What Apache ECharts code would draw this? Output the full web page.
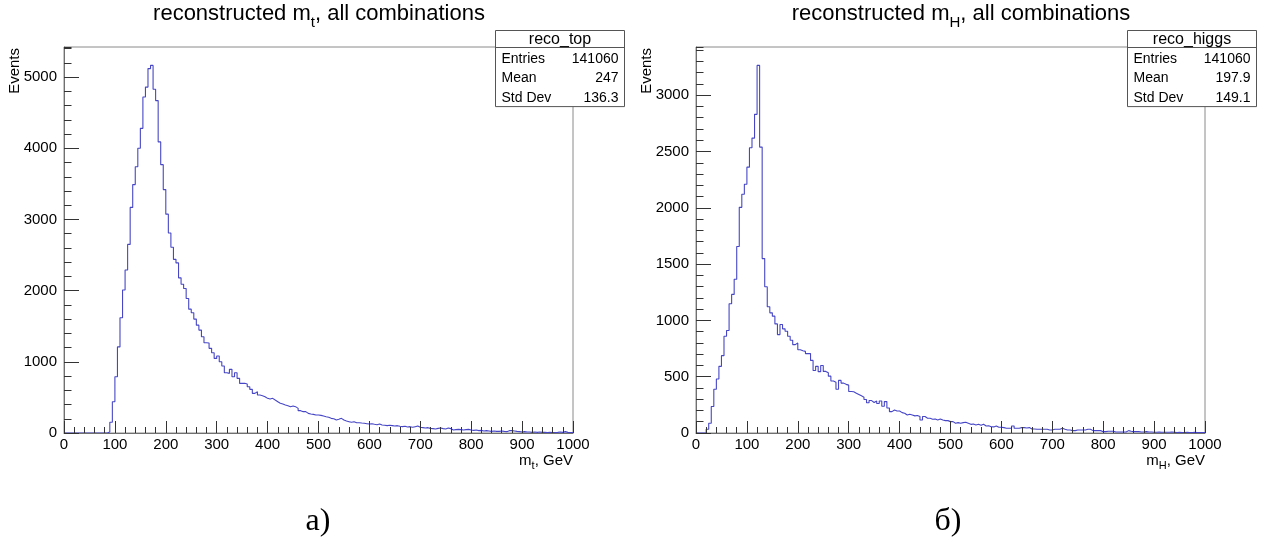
<!DOCTYPE html>
<html>
<head>
<meta charset="utf-8">
<script src="https://cdn.jsdelivr.net/npm/echarts@6/dist/echarts.min.js"></script>
<style>
  html, body { margin: 0; padding: 0; background: #fff; }
  #chart { width: 1279px; height: 548px; }
</style>
</head>
<body>
<div id="chart"></div>
<script>
// Histogram binning: 200 bins of 5 GeV from 0 to 1000 GeV
const BIN_WIDTH = 5;
const X_MIN = 0;
const X_MAX = 1000;

// reco_top: reconstructed top mass, counts per bin
const topCounts = [
  0, 0, 0, 0, 0, 0, 0, 0, 0, 0,
  0, 0, 0, 0, 0, 0, 0, 15, 150, 440,
  790, 1210, 1620, 2010, 2290, 2650, 3170, 3490, 3740, 4000,
  4280, 4720, 4860, 5120, 5165, 4830, 4670, 4090, 3770, 3420,
  3075, 2810, 2610, 2440, 2390, 2180, 2090, 2030, 1890, 1740,
  1690, 1600, 1515, 1446, 1353, 1268, 1265, 1189, 1128, 1048,
  1081, 1002, 941, 847, 838, 894, 791, 847, 768, 697,
  700, 688, 650, 613, 557, 580, 534, 524, 510, 487,
  477, 487, 463, 440, 417, 407, 393, 384, 370, 379,
  370, 346, 314, 300, 300, 276, 267, 262, 253, 253,
  248, 239, 229, 220, 206, 201, 183, 192, 206, 183,
  168, 159, 150, 159, 145, 145, 140, 136, 131, 126,
  130, 122, 117, 126, 112, 108, 103, 108, 103, 98,
  103, 94, 89, 94, 84, 89, 80, 89, 98, 80,
  75, 70, 75, 65, 61, 56, 65, 70, 61, 56,
  70, 61, 42, 47, 51, 47, 42, 47, 51, 42,
  37, 42, 33, 37, 28, 33, 28, 23, 28, 23,
  23, 28, 23, 19, 33, 33, 28, 23, 19, 14,
  19, 14, 14, 9, 14, 9, 14, 9, 9, 5,
  9, 5, 5, 9, 14, 9, 19, 9, 5, 5
];

// reco_higgs: reconstructed Higgs mass, counts per bin
const higgsCounts = [
  0, 0, 0, 0, 33, 86, 235, 389, 479, 592,
  687, 859, 910, 1148, 1231, 1365, 1656, 2004, 2120, 2209,
  2361, 2533, 2619, 2830, 3265, 2539, 1549, 1299, 1121, 1067,
  1038, 969, 874, 963, 925, 904, 859, 824, 785, 800,
  740, 730, 725, 705, 705, 645, 555, 592, 545, 600,
  547, 535, 505, 462, 450, 389, 467, 443, 432, 425,
  369, 366, 354, 342, 330, 318, 297, 268, 288, 271,
  285, 262, 284, 238, 279, 222, 190, 205, 196, 196,
  181, 175, 160, 166, 160, 152, 155, 146, 116, 146,
  131, 131, 122, 125, 116, 125, 116, 110, 110, 101,
  101, 86, 92, 86, 92, 95, 86, 77, 80, 71,
  77, 68, 77, 62, 65, 56, 54, 62, 51, 51,
  48, 42, 42, 42, 62, 42, 42, 48, 48, 45,
  48, 36, 36, 33, 33, 33, 33, 33, 27, 27,
  33, 33, 33, 42, 33, 27, 27, 21, 21, 27,
  27, 27, 27, 33, 33, 21, 21, 21, 21, 12,
  12, 15, 15, 15, 9, 9, 9, 9, 9, 21,
  15, 12, 12, 12, 9, 9, 12, 9, 9, 6,
  6, 9, 6, 6, 6, 6, 9, 6, 3, 6,
  3, 3, 6, 3, 3, 6, 3, 3, 3, 3
];

// Statistics boxes
const statLabels = ['Entries', 'Mean', 'Std Dev'];
const topStatValues = ['141060', '247', '136.3'];
const higgsStatValues = ['141060', '197.9', '149.1'];

// Axis divisions (major / minor)
const xMajor = 100, xMinor = 20;
const topYMajor = 1000, topYMinor = 200;
const higgsYMajor = 500, higgsYMinor = 100;

const SANS = 'Liberation Sans, Arial, Helvetica, sans-serif';
const SERIF = 'Liberation Serif, DejaVu Serif, serif';
const LINE_COLOR = '#4646c6';

// step outline: each point is a bin's lower edge; the last point closes the final bin
function toSteps(counts) {
  const pts = counts.map((v, i) => [X_MIN + i * BIN_WIDTH, v]);
  pts.push([X_MAX, counts[counts.length - 1]]);
  return pts;
}

// ROOT-like frame maximum: 5% headroom over the tallest bin
function frameMax(counts) {
  return Math.max.apply(null, counts) * 1.05;
}

const plainNumber = v => String(Math.round(v));

const pads = [
  { left: 64, counts: topCounts, yMajor: topYMajor, yMinor: topYMinor },
  { left: 696, counts: higgsCounts, yMajor: higgsYMajor, yMinor: higgsYMinor }
];
const GRID_TOP = 47, GRID_W = 509, GRID_H = 386;

const grids = [], xAxes = [], yAxes = [], series = [];
pads.forEach((p, g) => {
  grids.push({
    left: p.left, top: GRID_TOP, width: GRID_W, height: GRID_H,
    show: true, borderColor: '#8a8a8a', borderWidth: 1, backgroundColor: 'transparent'
  });
  const ymax = frameMax(p.counts);
  xAxes.push({
    gridIndex: g, type: 'value', min: X_MIN, max: X_MAX, interval: xMajor,
    position: 'bottom', z: 3,
    axisLine: { show: true, onZero: false, lineStyle: { color: '#707070', width: 1 } },
    axisTick: { show: true, inside: true, length: 12, lineStyle: { color: '#333', width: 1 } },
    axisLabel: { show: true, fontSize: 15, color: '#000', margin: 4, fontFamily: SANS, formatter: plainNumber },
    splitLine: { show: false }
  });
  xAxes.push({
    gridIndex: g, type: 'value', min: X_MIN, max: X_MAX, interval: xMinor,
    position: 'bottom', z: 3,
    axisLine: { show: false, onZero: false },
    axisTick: { show: true, inside: true, length: 6, lineStyle: { color: '#333', width: 1 } },
    axisLabel: { show: false },
    splitLine: { show: false }
  });
  yAxes.push({
    gridIndex: g, type: 'value', min: 0, max: ymax, interval: p.yMajor,
    position: 'left', z: 3,
    axisLine: { show: true, onZero: false, lineStyle: { color: '#707070', width: 1 } },
    axisTick: { show: true, inside: true, length: 15, lineStyle: { color: '#333', width: 1 } },
    axisLabel: { show: true, fontSize: 15, color: '#000', margin: 7, fontFamily: SANS, showMaxLabel: false, formatter: plainNumber },
    splitLine: { show: false }
  });
  yAxes.push({
    gridIndex: g, type: 'value', min: 0, max: ymax, interval: p.yMinor,
    position: 'left', z: 3,
    axisLine: { show: false, onZero: false },
    axisTick: { show: true, inside: true, length: 7.5, lineStyle: { color: '#333', width: 1 } },
    axisLabel: { show: false },
    splitLine: { show: false }
  });
  series.push({
    type: 'line', xAxisIndex: g * 2, yAxisIndex: g * 2,
    data: toSteps(p.counts), step: 'end',
    symbol: 'none', showSymbol: false, silent: true, z: 2,
    lineStyle: { color: LINE_COLOR, width: 1.1 }
  });
});

// text with a subscript, e.g. m_t; `drop` is how far the subscript sits below
function subText(main, sub, rest, size, subSize, drop) {
  return {
    text: '{m|' + main + '}{s|' + sub + '}{m|' + rest + '}',
    rich: {
      m: { fontSize: size, fontFamily: SANS, fill: '#000', lineHeight: size + 2, verticalAlign: 'top' },
      s: { fontSize: subSize, fontFamily: SANS, fill: '#000', lineHeight: size + 2 + drop, verticalAlign: 'bottom' }
    }
  };
}

function statBox(x0, name, values) {
  const w = 129, top = 30.5, head = 17, rowH = 19.7;
  const els = [
    { type: 'rect', shape: { x: x0, y: top, width: w, height: head + rowH * 3 },
      style: { fill: '#fff', stroke: '#555', lineWidth: 1 }, z: 10 },
    { type: 'line', shape: { x1: x0, y1: top + head, x2: x0 + w, y2: top + head },
      style: { stroke: '#555', lineWidth: 1 }, z: 11 },
    { type: 'text', x: x0 + w / 2, y: top + head / 2 + 0.5, z: 11,
      style: { text: name, fontSize: 16, fontFamily: SANS, fill: '#000', align: 'center', verticalAlign: 'middle' } }
  ];
  statLabels.forEach((lab, i) => {
    const cy = top + head + rowH * (i + 0.5) + 1.5;
    els.push({ type: 'text', x: x0 + 6, y: cy, z: 11,
      style: { text: lab, fontSize: 14, fontFamily: SANS, fill: '#000', align: 'left', verticalAlign: 'middle' } });
    els.push({ type: 'text', x: x0 + w - 6, y: cy, z: 11,
      style: { text: values[i], fontSize: 14, fontFamily: SANS, fill: '#000', align: 'right', verticalAlign: 'middle' } });
  });
  return els;
}

function padTexts(cx, left, sub, titleX) {
  const right = left + GRID_W;
  return [
    { type: 'text', x: cx, y: 3, z: 11,
      style: Object.assign(subText('reconstructed m', sub, ', all combinations', 22, 15, 3), { align: 'center', verticalAlign: 'top' }) },
    { type: 'text', x: titleX, y: 48, rotation: Math.PI / 2, z: 11,
      style: { text: 'Events', fontSize: 15, fontFamily: SANS, fill: '#000', align: 'right', verticalAlign: 'middle' } },
    { type: 'text', x: right, y: 453, z: 11,
      style: Object.assign(subText('m', sub, ', GeV', 15, 11, 1), { align: 'right', verticalAlign: 'top' }) }
  ];
}

const graphics = []
  .concat(padTexts(319, 64, 't', 15))
  .concat(padTexts(961, 696, 'H', 647))
  .concat(statBox(495.5, 'reco_top', topStatValues))
  .concat(statBox(1127.5, 'reco_higgs', higgsStatValues))
  .concat([
    { type: 'text', x: 318, y: 522, z: 11,
      style: { text: 'a)', fontSize: 32, fontFamily: SERIF, fill: '#000', align: 'center', verticalAlign: 'middle' } },
    { type: 'text', x: 948, y: 522, z: 11,
      style: { text: 'б)', fontSize: 32, fontFamily: SERIF, fill: '#000', align: 'center', verticalAlign: 'middle' } }
  ]);

const chart = echarts.init(document.getElementById('chart'), null, { renderer: 'canvas' });
chart.setOption({
  animation: false,
  backgroundColor: '#fff',
  grid: grids,
  xAxis: xAxes,
  yAxis: yAxes,
  series: series,
  graphic: graphics
});
</script>
</body>
</html>
